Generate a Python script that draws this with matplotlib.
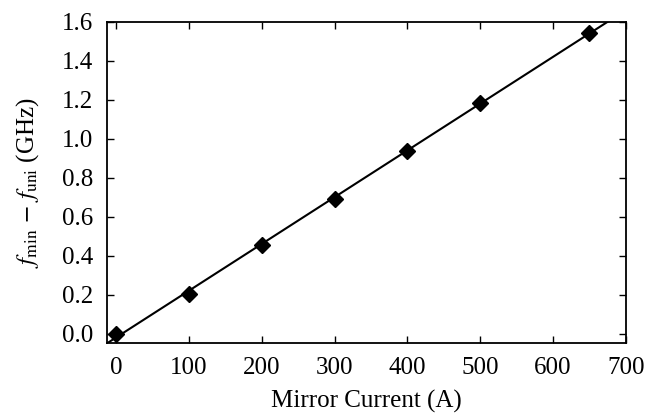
import numpy as np
import matplotlib
matplotlib.use("Agg")
import matplotlib.pyplot as plt

# Data
current = [0, 100, 200, 300, 400, 500, 650]
freq_diff = [0.0, 0.205, 0.457, 0.692, 0.939, 1.186, 1.546]
x_ticks = [0, 100, 200, 300, 400, 500, 600, 700]
y_ticks = [0.0, 0.2, 0.4, 0.6, 0.8, 1.0, 1.2, 1.4, 1.6]

plt.rcParams["font.family"] = ["Liberation Serif", "DejaVu Serif"]
plt.rcParams["mathtext.fontset"] = "stix"

fig = plt.figure(figsize=(6.47, 4.15), dpi=100)
ax = fig.add_axes([0.1649, 0.1727, 0.8025, 0.7743])

xlim = (-13, 700)
ylim = (-0.05, 1.6)

# Linear fit through the measured points
slope, intercept = np.polyfit(current, freq_diff, 1)
xs = np.array(xlim)
ax.plot(xs, slope * xs + intercept, color="black", linewidth=1.5, zorder=2)

ax.plot(current, freq_diff, linestyle="none", marker="D", markersize=8,
        color="black", zorder=3)

ax.set_xlim(*xlim)
ax.set_ylim(*ylim)
ax.set_xticks(x_ticks)
ax.set_yticks(y_ticks)
ax.set_yticklabels([f"{v:.1f}" for v in y_ticks])

ax.tick_params(direction="in", top=True, right=True, length=5, width=1,
               labelsize=18)
ax.tick_params(axis="x", pad=9.5)
ax.tick_params(axis="y", pad=9.5)
for sp in ax.spines.values():
    sp.set_linewidth(1.3)

ax.set_xlabel("Mirror Current (A)", fontsize=18, labelpad=8)
ax.set_ylabel(r"$f_\mathrm{min} \,-\, f_\mathrm{uni}$ (GHz)", fontsize=18,
              labelpad=15)

fig.savefig("out.png", dpi=100)
